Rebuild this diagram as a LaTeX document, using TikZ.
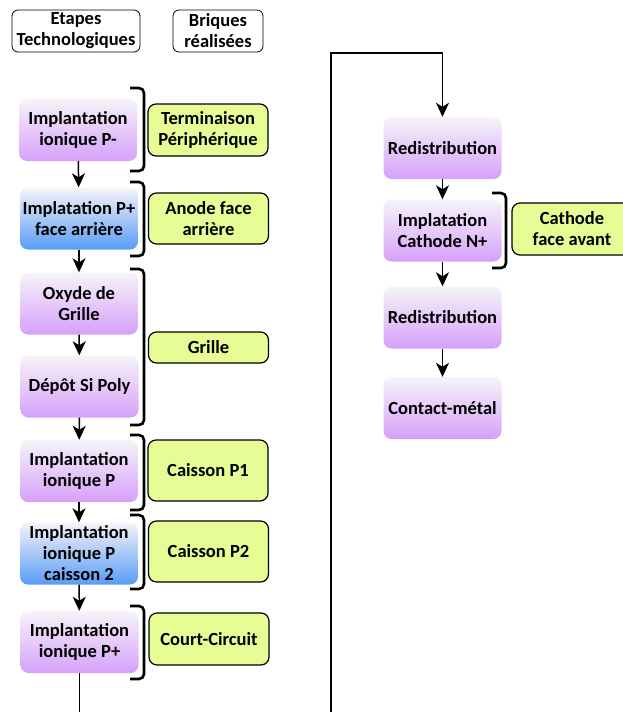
\documentclass[tikz,border=0pt]{standalone}
\usepackage{fontspec}
\setmainfont{Carlito}
\usetikzlibrary{arrows.meta}

\definecolor{mauve}{RGB}{214,160,250}
\definecolor{mauvetop}{RGB}{246,244,248}
\definecolor{bleu}{RGB}{88,156,246}
\definecolor{brique}{RGB}{232,252,150}

\tikzset{
    etape/.style={rounded corners=8pt, minimum width=118pt, minimum height=62pt,
        top color=mauvetop, bottom color=mauve, align=center,
        font=\bfseries\fontsize{18.5}{21}\selectfont, inner sep=1pt},
    etapebleue/.style={etape, bottom color=bleu},
    briquebox/.style={draw, line width=1.2pt, rounded corners=8pt, fill=brique,
        minimum width=120pt, align=center,
        font=\bfseries\fontsize{18.5}{21}\selectfont, inner sep=1pt},
    titre/.style={draw, line width=0.8pt, rounded corners=6pt, fill=white,
        minimum height=42pt, align=center,
        font=\bfseries\fontsize{18.5}{21}\selectfont, inner sep=1pt},
    fleche/.style={line width=1.5pt, -{Stealth[length=14pt,width=13pt,inset=4pt]}},
    accolade/.style={line width=2.6pt, rounded corners=5pt},
}

\begin{document}
\begin{tikzpicture}[x=1pt, y=-1pt]
    \useasboundingbox (0,0) rectangle (622,712);
    % titres
    \node[titre, minimum width=128pt] (titreEtapes) at (76,31) {Etapes\\Technologiques};
    \node[titre, minimum width=90pt] (titreBriques) at (218,31) {Briques\\r\'ealis\'ees};
    % etapes, colonne de gauche
    \node[etape] (impPmoins) at (78,130) {Implantation\\ionique P-};
    \node[etapebleue] (impArriere) at (79,218.5) {Implatation P+\\face arri\`ere};
    \node[etape] (oxyde) at (79,303.5) {Oxyde de\\Grille};
    \node[etape] (poly) at (79.5,386.5) {D\'ep\^ot Si Poly};
    \node[etape] (impP) at (79,471) {Implantation\\ionique P};
    \node[etapebleue] (impCaisson) at (79,553.5) {Implantation\\ionique P\\caisson 2};
    \node[etape] (impPplus) at (79.5,642) {Implantation\\ionique P+};
    % etapes, colonne de droite
    \node[etape] (redis) at (442.5,148) {Redistribution};
    \node[etape] (cathode) at (442.5,230.5) {Implatation\\Cathode N+};
    \node[etape] (redisDeux) at (442.5,317.5) {Redistribution};
    \node[etape] (contact) at (442.5,408) {Contact-m\'etal};
    % briques
    \node[briquebox, minimum height=52pt] (terminaison) at (208,130) {Terminaison\\P\'eriph\'erique};
    \node[briquebox, minimum height=51pt] (anode) at (208.5,218.5) {Anode face\\arri\`ere};
    \node[briquebox, minimum height=31pt] (grille) at (208.5,347.5) {Grille};
    \node[briquebox, minimum height=61pt] (caissonUn) at (208,470.5) {Caisson P1};
    \node[briquebox, minimum height=61pt] (caissonDeux) at (208.5,551.5) {Caisson P2};
    \node[briquebox, minimum height=52pt] (court) at (209,639) {Court-Circuit};
    \node[briquebox, minimum height=52pt] (cathodeAvant) at (572,229) {Cathode\\face avant};
    % fleches
    \draw[fleche] (impPmoins) -- (impArriere);
    \draw[fleche] (impArriere) -- (oxyde);
    \draw[fleche] (oxyde) -- (poly);
    \draw[fleche] (poly) -- (impP);
    \draw[fleche] (impP) -- (impCaisson);
    \draw[fleche] (impCaisson) -- (impPplus);
    \draw[fleche] (redis) -- (cathode);
    \draw[fleche] (cathode) -- (redisDeux);
    \draw[fleche] (redisDeux) -- (contact);
    % liaison coupee entre les colonnes
    \coordinate (basGauche) at (impPplus.south |- 0,712);
    \coordinate (basDroite) at (331,712);
    \coordinate (haut) at (331,53);
    \draw[line width=1.5pt] (impPplus) -- (basGauche);
    \draw[fleche] (basDroite) -- (haut) -| (redis);
    % crochets
    \foreach \ya/\yb in {88/171, 182/256, 269/425, 435/510, 515/589, 606/679}
        \draw[accolade] (130,\ya) -- (144,\ya) -- (144,\yb) -- (130,\yb);
    \draw[accolade] (492,193) -- (506,193) -- (506,268) -- (492,268);
\end{tikzpicture}
\end{document}
